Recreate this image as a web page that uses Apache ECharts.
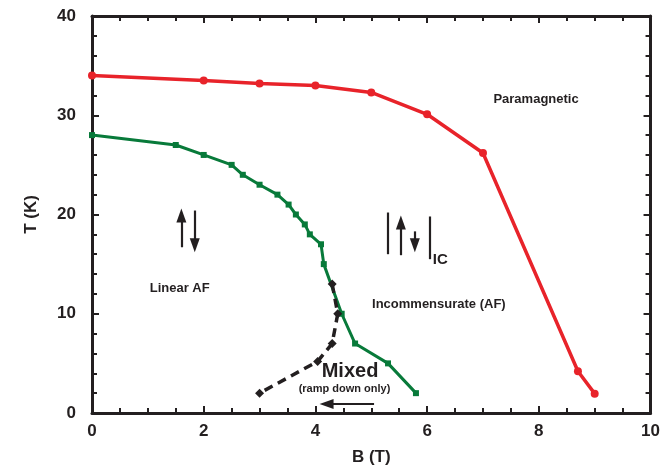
<!DOCTYPE html>
<html>
<head>
<meta charset="utf-8">
<script src="https://cdn.jsdelivr.net/npm/echarts@6/dist/echarts.min.js"></script>
<style>
  html, body { margin: 0; padding: 0; background: #fff; }
  #chart_phase { width: 663px; height: 472px; }
</style>
</head>
<body>
<div id="chart_phase"></div>
<script>
// paramagnetic boundary (B in T, T in K)
var redB = [0, 2, 3, 4, 5, 6, 7, 8.7, 9]
var redT = [34, 33.5, 33.2, 33, 32.3, 30.1, 26.2, 4.2, 1.95]

// linear AF / incommensurate boundary
var greenB = [0, 1.5, 2, 2.5, 2.7, 3, 3.32, 3.52, 3.65, 3.81, 3.9, 4.1, 4.15, 4.47, 4.71, 5.3, 5.8]
var greenT = [28, 27, 26, 25, 24, 23, 22, 21, 20, 19, 18, 17, 15, 10, 7, 5, 2]

// mixed region (ramp down only)
var mixedB = [4.3, 4.4, 4.3, 4.04, 3]
var mixedT = [13, 10, 7, 5.2, 2]

var xTicks = [0, 2, 4, 6, 8, 10]
var yTicks = [0, 10, 20, 30, 40]

function pairs(xs, ys) {
  return xs.map(function (x, i) { return [x, ys[i]] })
}

var chart = echarts.init(document.getElementById('chart_phase'))
var axisColor = '#231f20'
var font = 'Liberation Sans, Arial, sans-serif'

function xAxisCfg(pos, showLabel) {
  return {
    type: 'value',
    position: pos,
    min: xTicks[0],
    max: xTicks[xTicks.length - 1],
    interval: 2,
    name: showLabel ? 'B (T)' : '',
    nameLocation: 'middle',
    nameGap: 36,
    nameTextStyle: { fontSize: 17, fontWeight: 'bold', color: axisColor, fontFamily: font },
    axisLine: { show: true, onZero: false, lineStyle: { color: axisColor, width: 3 } },
    axisTick: { show: true, inside: true, length: 7, lineStyle: { color: axisColor, width: 2 } },
    minorTick: { show: true, splitNumber: 4, length: 5, lineStyle: { color: axisColor, width: 2 } },
    splitLine: { show: false },
    axisLabel: { show: showLabel, fontSize: 17, fontWeight: 'bold', color: axisColor, fontFamily: font, margin: 10 }
  }
}

function yAxisCfg(pos, showLabel) {
  return {
    type: 'value',
    position: pos,
    min: yTicks[0],
    max: yTicks[yTicks.length - 1],
    interval: 10,
    name: showLabel ? 'T (K)' : '',
    nameLocation: 'middle',
    nameGap: 52,
    nameRotate: 90,
    nameTextStyle: { fontSize: 17, fontWeight: 'bold', color: axisColor, fontFamily: font },
    axisLine: { show: true, onZero: false, lineStyle: { color: axisColor, width: 3 } },
    axisTick: { show: true, inside: true, length: 7, lineStyle: { color: axisColor, width: 2 } },
    minorTick: { show: true, splitNumber: 5, length: 5, lineStyle: { color: axisColor, width: 2 } },
    splitLine: { show: false },
    axisLabel: { show: showLabel, fontSize: 17, fontWeight: 'bold', color: axisColor, fontFamily: font, margin: 16 }
  }
}

function note(text, b, t, size, align) {
  return {
    coord: [b, t],
    symbol: 'circle',
    symbolSize: 1,
    itemStyle: { color: 'rgba(0,0,0,0)' },
    label: {
      show: true,
      position: 'inside',
      formatter: text,
      fontSize: size,
      fontWeight: 'bold',
      color: axisColor,
      fontFamily: font,
      align: align || 'center'
    }
  }
}

// the triangle head is centred on the end point, so ends sit a half head short of the tip
function arrow(b0, t0, b1, t1) {
  return [
    { coord: [b0, t0], symbol: 'none' },
    { coord: [b1, t1], symbol: 'triangle' }
  ]
}

function bar(b, t0, t1) {
  return [
    { coord: [b, t0], symbol: 'none' },
    { coord: [b, t1], symbol: 'none' }
  ]
}

chart.setOption({
  animation: false,
  grid: { left: 92, right: 11, top: 16, bottom: 59 },
  xAxis: [xAxisCfg('bottom', true), xAxisCfg('top', false)],
  yAxis: [yAxisCfg('left', true), yAxisCfg('right', false)],
  series: [
    {
      type: 'line',
      data: pairs(redB, redT),
      symbol: 'circle',
      symbolSize: 8,
      itemStyle: { color: '#e8232a' },
      lineStyle: { color: '#e8232a', width: 3.5 }
    },
    {
      type: 'line',
      data: pairs(greenB, greenT),
      symbol: 'rect',
      symbolSize: 6,
      itemStyle: { color: '#087a3a' },
      lineStyle: { color: '#087a3a', width: 3 }
    },
    {
      type: 'line',
      data: pairs(mixedB, mixedT),
      symbol: 'diamond',
      symbolSize: 9,
      itemStyle: { color: axisColor },
      lineStyle: { color: axisColor, width: 3.5, type: [9, 6] },
      markPoint: {
        silent: true,
        data: [
          note('Paramagnetic', 7.95, 31.6, 13),
          note('Linear AF', 1.57, 12.6, 13),
          note('Incommensurate (AF)', 6.21, 10.9, 13),
          note('Mixed', 4.62, 4.2, 20),
          note('(ramp down only)', 4.52, 2.4, 11),
          note('IC', 6.1, 15.4, 15, 'left')
        ]
      },
      markLine: {
        silent: true,
        symbolSize: [10, 14],
        label: { show: false },
        lineStyle: { color: axisColor, width: 2.2, type: 'solid' },
        data: [
          arrow(1.6, 16.7, 1.6, 19.9),
          arrow(1.84, 20.4, 1.84, 16.9),
          arrow(5.53, 15.9, 5.53, 19.2),
          arrow(5.78, 18.3, 5.78, 16.9),
          bar(5.3, 16.0, 20.2),
          bar(6.04, 15.5, 19.8),
          arrow(5.05, 0.9, 4.2, 0.9)
        ]
      }
    }
  ]
})
</script>
</body>
</html>
